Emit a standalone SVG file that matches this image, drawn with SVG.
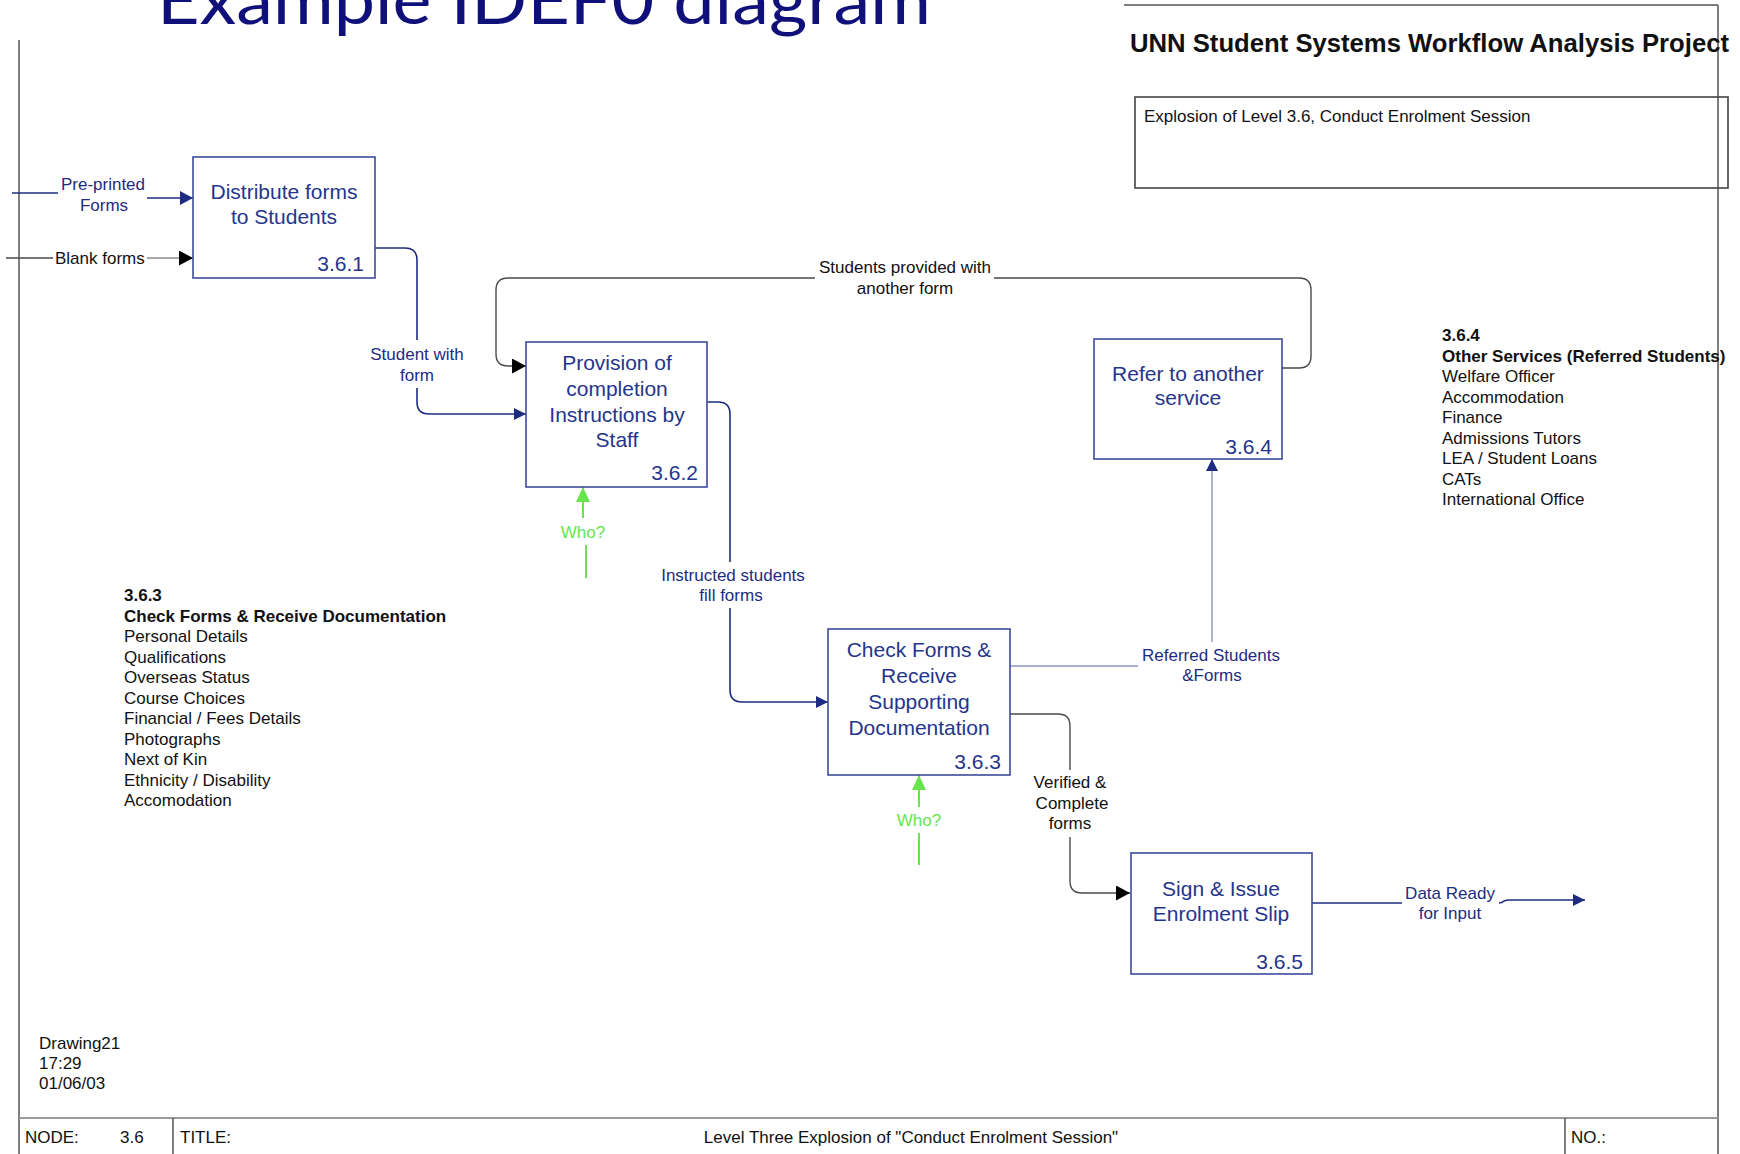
<svg xmlns="http://www.w3.org/2000/svg" width="1740" height="1154" viewBox="0 0 1740 1154">
  <style>
    .frame { stroke: #555; stroke-width: 1.5; fill: none; }
    .rule { stroke: #9a9a9a; stroke-width: 2; fill: none; }
    .box { fill: #fff; stroke: #3d4c9c; stroke-width: 1.6; }
    .bt { font-family: "Liberation Sans", Arial, sans-serif; font-size: 21px; fill: #25358c; text-anchor: middle; }
    .bn { font-family: "Liberation Sans", Arial, sans-serif; font-size: 21px; fill: #25358c; text-anchor: end; }
    .lbl { font-family: "Liberation Sans", Arial, sans-serif; font-size: 17px; fill: #1d2c80; text-anchor: middle; }
    .lblk { font-family: "Liberation Sans", Arial, sans-serif; font-size: 17px; fill: #111; text-anchor: middle; }
    .who { font-family: "Liberation Sans", Arial, sans-serif; font-size: 17px; fill: #66e64a; text-anchor: middle; }
    .txt { font-family: "Liberation Sans", Arial, sans-serif; font-size: 17px; fill: #111; }
    .bold { font-weight: bold; }
    .head { font-family: "Liberation Sans", Arial, sans-serif; font-size: 25.5px; font-weight: bold; fill: #111; }
    .navy { stroke: #1d2c80; stroke-width: 1.6; fill: none; }
    .grey { stroke: #4a4a4a; stroke-width: 1.4; fill: none; }
    .pale { stroke: #8d93c4; stroke-width: 1.4; fill: none; }
    .green { stroke: #66e64a; stroke-width: 2; fill: none; }
  </style>
  <defs>
    <marker id="arrNavy" markerUnits="userSpaceOnUse" markerWidth="14" markerHeight="14" refX="13" refY="7" orient="auto">
      <path d="M0,0 L13,7 L0,14 z" fill="#1d2c80"/>
    </marker>
    <marker id="arrNavySm" markerUnits="userSpaceOnUse" markerWidth="13" markerHeight="12" refX="12" refY="6" orient="auto">
      <path d="M0,0 L12,6 L0,12 z" fill="#1d2c80"/>
    </marker>
    <marker id="arrBlack" markerUnits="userSpaceOnUse" markerWidth="14" markerHeight="15" refX="14" refY="7.5" orient="auto">
      <path d="M0,0 L14,7.5 L0,15 z" fill="#000"/>
    </marker>
    <marker id="arrGreen" markerUnits="userSpaceOnUse" markerWidth="15" markerHeight="14" refX="15" refY="7" orient="auto">
      <path d="M0,0 L15,7 L0,14 z" fill="#66e64a"/>
    </marker>
  </defs>

  <rect width="1740" height="1154" fill="#fff"/>

  <!-- slide title, clipped by the top edge -->
  <text x="157" y="24" font-family="Lato, 'Open Sans', sans-serif" font-size="68" fill="#10107a" textLength="774" lengthAdjust="spacingAndGlyphs">Example IDEF0 diagram</text>

  <!-- drawing frame -->
  <g id="frame">
    <line class="frame" x1="19" y1="40" x2="19" y2="1154"/>
    <line class="frame" x1="1124" y1="5" x2="1718" y2="5"/>
    <line class="frame" x1="1718" y1="5" x2="1718" y2="1154"/>
    <line class="rule" x1="19" y1="1118" x2="1718" y2="1118"/>
    <line class="frame" x1="173" y1="1118" x2="173" y2="1154"/>
    <line class="frame" x1="1565" y1="1118" x2="1565" y2="1154"/>
    <rect x="1135" y="97" width="593" height="91" fill="none" stroke="#444" stroke-width="1.6"/>
  </g>

  <!-- header -->
  <g id="header">
    <text class="head" x="1130" y="52" textLength="599" lengthAdjust="spacingAndGlyphs">UNN Student Systems Workflow Analysis Project</text>
    <text class="txt" x="1144" y="122">Explosion of Level 3.6, Conduct Enrolment Session</text>
  </g>

  <!-- connectors -->
  <g id="connectors">
    <!-- Pre-printed Forms -->
    <line class="navy" x1="12" y1="193" x2="58" y2="193"/>
    <line class="navy" x1="147" y1="198" x2="193" y2="198" marker-end="url(#arrNavy)"/>
    <text class="lbl" x="103" y="190">Pre-printed</text>
    <text class="lbl" x="104" y="211">Forms</text>

    <!-- Blank forms -->
    <line class="grey" x1="6" y1="258" x2="53" y2="258"/>
    <line stroke="#888" stroke-width="1.3" x1="147" y1="258" x2="193" y2="258" marker-end="url(#arrBlack)"/>
    <text class="txt" x="55" y="264">Blank forms</text>

    <!-- Student with form -->
    <path class="navy" d="M375,248 H405 Q417,248 417,260 V340"/>
    <path class="navy" d="M417,388 V402 Q417,414 429,414 H526" marker-end="url(#arrNavySm)"/>
    <text class="lbl" x="417" y="360">Student with</text>
    <text class="lbl" x="417" y="381">form</text>

    <!-- Students provided with another form (feedback) -->
    <path class="grey" d="M1282,368 H1299 Q1311,368 1311,356 V290 Q1311,278 1299,278 H994"/>
    <path class="grey" d="M815,278 H508 Q496,278 496,290 V354 Q496,366 508,366 H526" marker-end="url(#arrBlack)"/>
    <text class="lblk" x="905" y="273">Students provided with</text>
    <text class="lblk" x="905" y="294">another form</text>

    <!-- Instructed students fill forms -->
    <path class="navy" d="M707,402 H718 Q730,402 730,414 V562"/>
    <path class="navy" d="M730,608 V690 Q730,702 742,702 H828" marker-end="url(#arrNavySm)"/>
    <text class="lbl" x="733" y="581">Instructed students</text>
    <text class="lbl" x="731" y="601">fill forms</text>

    <!-- Referred Students & Forms -->
    <line class="pale" x1="1010" y1="666" x2="1138" y2="666"/>
    <line class="pale" x1="1212" y1="642" x2="1212" y2="459" marker-end="url(#arrNavySm)"/>
    <text class="lbl" x="1211" y="661">Referred Students</text>
    <text class="lbl" x="1212" y="681">&amp;Forms</text>

    <!-- Verified & Complete forms -->
    <path class="grey" d="M1010,714 H1058 Q1070,714 1070,726 V770"/>
    <path class="grey" d="M1070,837 V881 Q1070,893 1082,893 H1130" marker-end="url(#arrBlack)"/>
    <text class="lblk" x="1070" y="788">Verified &amp;</text>
    <text class="lblk" x="1072" y="809">Complete</text>
    <text class="lblk" x="1070" y="829">forms</text>

    <!-- Data Ready for Input -->
    <line class="navy" x1="1312" y1="903" x2="1402" y2="903"/>
    <path class="navy" d="M1499,903 Q1502,903 1504,901 Q1506,900 1510,900 H1585" marker-end="url(#arrNavySm)"/>
    <text class="lbl" x="1450" y="899">Data Ready</text>
    <text class="lbl" x="1450" y="919">for Input</text>

    <!-- Who? mechanisms -->
    <line class="green" x1="583" y1="518" x2="583" y2="487" marker-end="url(#arrGreen)"/>
    <line class="green" x1="586" y1="545" x2="586" y2="578"/>
    <text class="who" x="583" y="538">Who?</text>
    <line class="green" x1="919" y1="807" x2="919" y2="775" marker-end="url(#arrGreen)"/>
    <line class="green" x1="919" y1="833" x2="919" y2="865"/>
    <text class="who" x="919" y="826">Who?</text>
  </g>

  <!-- activity boxes -->
  <g id="a361">
    <rect class="box" x="193" y="157" width="182" height="121"/>
    <text class="bt" x="284" y="199">Distribute forms</text>
    <text class="bt" x="284" y="224">to Students</text>
    <text class="bn" x="364" y="271">3.6.1</text>
  </g>
  <g id="a362">
    <rect class="box" x="526" y="342" width="181" height="145"/>
    <text class="bt" x="617" y="370">Provision of</text>
    <text class="bt" x="617" y="396">completion</text>
    <text class="bt" x="617" y="422">Instructions by</text>
    <text class="bt" x="617" y="447">Staff</text>
    <text class="bn" x="698" y="480">3.6.2</text>
  </g>
  <g id="a363">
    <rect class="box" x="828" y="629" width="182" height="146"/>
    <text class="bt" x="919" y="657">Check Forms &amp;</text>
    <text class="bt" x="919" y="683">Receive</text>
    <text class="bt" x="919" y="709">Supporting</text>
    <text class="bt" x="919" y="735">Documentation</text>
    <text class="bn" x="1001" y="769">3.6.3</text>
  </g>
  <g id="a364">
    <rect class="box" x="1094" y="339" width="188" height="120"/>
    <text class="bt" x="1188" y="381">Refer to another</text>
    <text class="bt" x="1188" y="405">service</text>
    <text class="bn" x="1272" y="454">3.6.4</text>
  </g>
  <g id="a365">
    <rect class="box" x="1131" y="853" width="181" height="121"/>
    <text class="bt" x="1221" y="896">Sign &amp; Issue</text>
    <text class="bt" x="1221" y="921">Enrolment Slip</text>
    <text class="bn" x="1303" y="969">3.6.5</text>
  </g>

  <!-- notes -->
  <g id="note363">
    <text class="txt bold" x="124" y="601">3.6.3</text>
    <text class="txt bold" x="124" y="621.5">Check Forms &amp; Receive Documentation</text>
    <text class="txt" x="124" y="642">Personal Details</text>
    <text class="txt" x="124" y="662.5">Qualifications</text>
    <text class="txt" x="124" y="683">Overseas Status</text>
    <text class="txt" x="124" y="703.5">Course Choices</text>
    <text class="txt" x="124" y="724">Financial / Fees Details</text>
    <text class="txt" x="124" y="744.5">Photographs</text>
    <text class="txt" x="124" y="765">Next of Kin</text>
    <text class="txt" x="124" y="785.5">Ethnicity / Disability</text>
    <text class="txt" x="124" y="806">Accomodation</text>
  </g>
  <g id="note364">
    <text class="txt bold" x="1442" y="341">3.6.4</text>
    <text class="txt bold" x="1442" y="361.5">Other Services (Referred Students)</text>
    <text class="txt" x="1442" y="382">Welfare Officer</text>
    <text class="txt" x="1442" y="402.5">Accommodation</text>
    <text class="txt" x="1442" y="423">Finance</text>
    <text class="txt" x="1442" y="443.5">Admissions Tutors</text>
    <text class="txt" x="1442" y="464">LEA / Student Loans</text>
    <text class="txt" x="1442" y="484.5">CATs</text>
    <text class="txt" x="1442" y="505">International Office</text>
  </g>

  <!-- footer -->
  <g id="footer">
    <text class="txt" x="39" y="1049">Drawing21</text>
    <text class="txt" x="39" y="1069">17:29</text>
    <text class="txt" x="39" y="1089">01/06/03</text>
    <text class="txt" x="25" y="1143">NODE:</text>
    <text class="txt" x="120" y="1143">3.6</text>
    <text class="txt" x="180" y="1143">TITLE:</text>
    <text class="txt" x="911" y="1143" text-anchor="middle">Level Three Explosion of "Conduct Enrolment Session"</text>
    <text class="txt" x="1571" y="1143">NO.:</text>
  </g>
</svg>
